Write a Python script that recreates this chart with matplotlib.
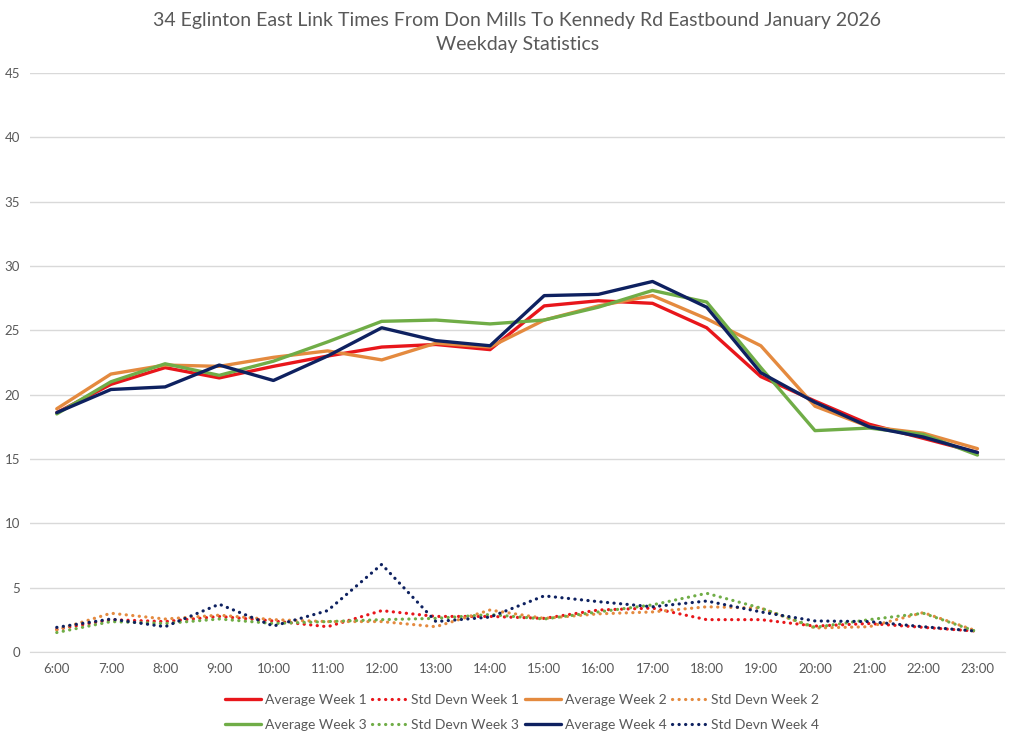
import matplotlib
matplotlib.use('Agg')
import matplotlib.pyplot as plt

# ---------------------------
# Data
# ---------------------------
hours = ['6:00', '7:00', '8:00', '9:00', '10:00', '11:00', '12:00', '13:00', '14:00',
         '15:00', '16:00', '17:00', '18:00', '19:00', '20:00', '21:00', '22:00', '23:00']

avg_week1 = [18.6, 20.8, 22.1, 21.3, 22.2, 23.0, 23.7, 23.9, 23.5, 26.9, 27.3, 27.1, 25.2, 21.4, 19.5, 17.7, 16.6, 15.5]
sd_week1 = [1.75, 2.5, 2.35, 2.75, 2.4, 1.95, 3.2, 2.75, 2.75, 2.6, 3.25, 3.4, 2.5, 2.5, 2.0, 2.2, 1.9, 1.6]
avg_week2 = [18.9, 21.6, 22.3, 22.2, 22.9, 23.4, 22.7, 24.0, 23.7, 25.8, 26.9, 27.7, 25.9, 23.8, 19.1, 17.5, 17.0, 15.8]
sd_week2 = [1.7, 3.0, 2.55, 2.85, 2.5, 2.35, 2.35, 1.95, 3.25, 2.6, 2.95, 3.1, 3.5, 3.4, 1.85, 1.95, 3.05, 1.6]
avg_week3 = [18.5, 21.0, 22.4, 21.5, 22.6, 24.1, 25.7, 25.8, 25.5, 25.8, 26.8, 28.1, 27.2, 22.1, 17.2, 17.4, 16.9, 15.3]
sd_week3 = [1.5, 2.35, 2.2, 2.55, 2.2, 2.35, 2.5, 2.6, 2.9, 2.55, 3.1, 3.65, 4.55, 3.4, 1.9, 2.5, 3.0, 1.55]
avg_week4 = [18.6, 20.4, 20.6, 22.3, 21.1, 23.0, 25.2, 24.2, 23.8, 27.7, 27.8, 28.8, 26.8, 21.7, 19.4, 17.5, 16.7, 15.5]
sd_week4 = [1.9, 2.55, 1.95, 3.7, 2.0, 3.2, 6.8, 2.35, 2.7, 4.35, 3.9, 3.5, 3.95, 3.1, 2.4, 2.35, 1.95, 1.6]

colors = ['#E8161B', '#E48A3F', '#70AD47', '#0E2160']
avgs = [avg_week1, avg_week2, avg_week3, avg_week4]
sds = [sd_week1, sd_week2, sd_week3, sd_week4]

plt.rcParams['font.family'] = ['Lato', 'DejaVu Sans']
grey = '#595959'

fig = plt.figure(figsize=(10.24, 7.39), dpi=100)
ax = fig.add_axes([0.029, 0.118, 0.952, 0.783])

x = list(range(len(hours)))
handles = {}
for i in range(4):
    ln_avg, = ax.plot(x, avgs[i], color=colors[i], lw=2.4, solid_capstyle='round',
                      solid_joinstyle='round', label=f'Average Week {i + 1}', zorder=3)
    ln_sd, = ax.plot(x, sds[i], color=colors[i], lw=2.3, linestyle=(0, (0.05, 2.0)),
                     dash_capstyle='round', label=f'Std Devn Week {i + 1}', zorder=3)
    handles[i] = (ln_avg, ln_sd)

ax.set_xlim(-0.5, len(hours) - 0.5)
ax.set_ylim(0, 45)
ax.set_yticks(range(0, 46, 5))
ax.set_xticks(x)
ax.set_xticklabels(hours)
ax.grid(axis='y', color='#D9D9D9', lw=1)
ax.set_axisbelow(True)
for s in ['top', 'right', 'left']:
    ax.spines[s].set_visible(False)
ax.spines['bottom'].set_color('#D9D9D9')
ax.tick_params(axis='x', length=0, labelsize=9.5, colors=grey, pad=8)
ax.tick_params(axis='y', length=0, labelsize=9.5, colors=grey, pad=7)

ax.set_title('34 Eglinton East Link Times From Don Mills To Kennedy Rd Eastbound January 2026\nWeekday Statistics',
             fontsize=14, color=grey, pad=17, linespacing=1.5)

# legend, row-wise order like the original
order = [handles[0][0], handles[2][0], handles[0][1], handles[2][1],
         handles[1][0], handles[3][0], handles[1][1], handles[3][1]]
fig.legend(handles=order, labels=[h.get_label() for h in order], ncol=4,
           loc='center', bbox_to_anchor=(0.51, 0.036), frameon=False, fontsize=10,
           labelcolor=grey, handlelength=2.6, handletextpad=0.25, columnspacing=0.4,
           labelspacing=0.95)

fig.savefig('out.png', dpi=100)
